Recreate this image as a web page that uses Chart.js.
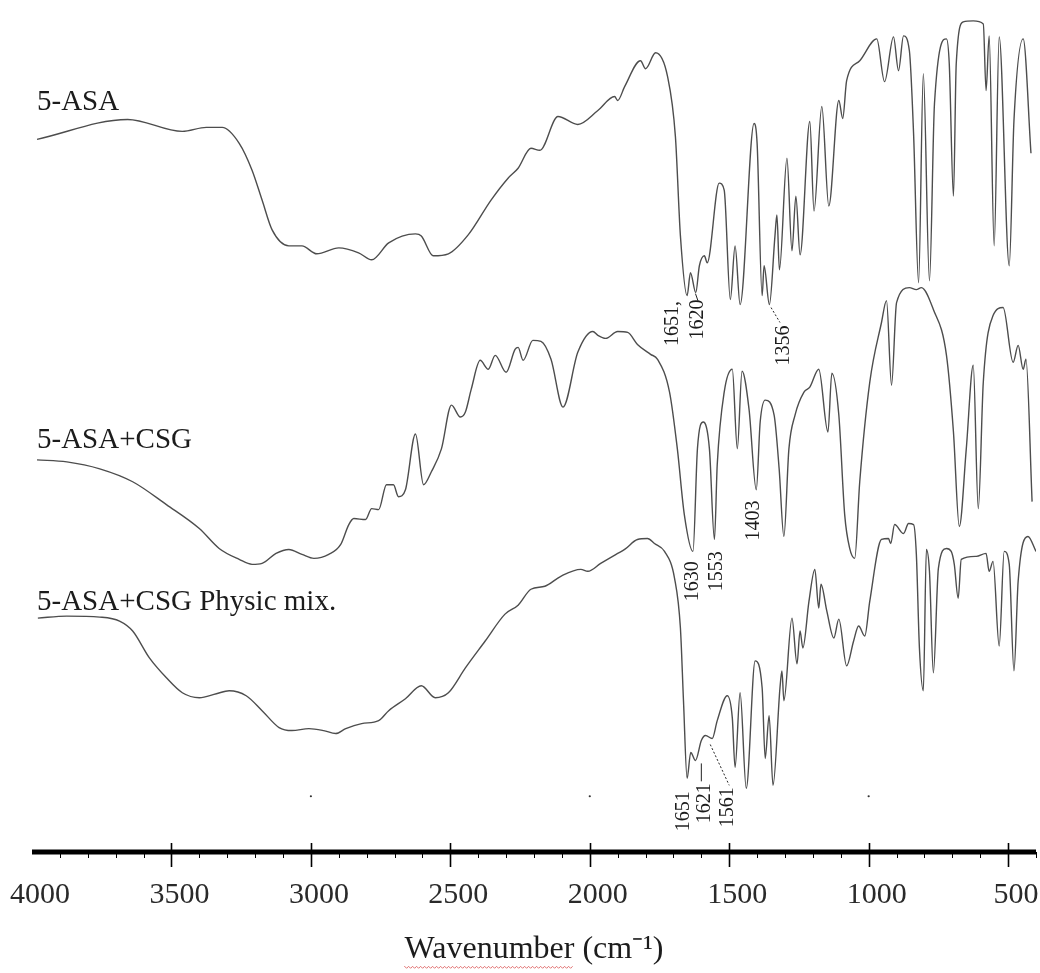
<!DOCTYPE html>
<html>
<head>
<meta charset="utf-8">
<title>FTIR spectra</title>
<script src="https://cdn.jsdelivr.net/npm/chart.js@4.4.1/dist/chart.umd.min.js"></script>
<style>
  html, body { margin: 0; padding: 0; background: #fff; }
</style>
</head>
<body>
<canvas id="spectra" width="1040" height="973"></canvas>
<script>
// wavenumbers (cm-1) and stacked transmittance (offset units) per spectrum
const asaWavenumber = [3982,3657,3461,3375,3318,3257,3211,3175,3139,3079,3032,2979,2900,2829,2782,2721,2625,2604,2561,2507,
  2436,2354,2293,2257,2211,2179,2114,2043,1971,1911,1900,1875,1818,1800,1764,1721,1693,1675,1651,1639,
  1620,1607,1589,1579,1536,1518,1496,1479,1461,1411,1400,1382,1375,1356,1336,1329,1320,1293,1275,1261,
  1246,1211,1196,1168,1143,1107,1093,1079,1032,971,943,911,893,875,854,839,821,804,782,764,
  721,711,696,686,661,625,589,579,568,550,532,496,479,446,418];
const asaSignal = [716,736,724,728,728,712,685,655,625,609,609,601,607,602,595,612,621,619,599,601,
  620,655,677,687,707,705,739,731,745,759,755,769,795,787,803,779,719,619,559,582,
  562,589,599,592,672,665,555,609,550,732,712,559,589,550,619,640,585,697,604,659,
  600,734,644,749,649,755,737,775,795,817,774,819,785,820,805,722,572,782,574,752,
  817,792,659,792,834,835,832,765,820,609,819,589,735,817,702];

const csgWavenumber = [3982,3875,3757,3639,3518,3400,3329,3257,3211,3175,3125,3079,3032,2989,2936,2893,2864,2846,2804,2782,
  2757,2729,2704,2686,2661,2625,2596,2568,2532,2496,2464,2446,2425,2393,2364,2339,2300,2268,2257,2239,
  2204,2175,2139,2096,2043,1989,1971,1943,1900,1864,1829,1782,1757,1714,1686,1661,1630,1614,1593,1571,
  1553,1543,1518,1489,1471,1454,1429,1403,1389,1371,1339,1321,1304,1286,1264,1232,1211,1179,1146,1132,
  1107,1086,1068,1050,1032,996,954,936,918,900,854,829,811,768,721,696,675,650,625,607,
  589,554,518,482,464,446,436,414];
const csgSignal = [394,392,385,372,349,325,305,294,289,290,300,304,299,295,299,309,329,335,334,345,
  344,369,369,357,364,420,369,382,405,449,437,442,465,494,485,499,482,505,507,494,
  514,513,495,447,502,523,519,516,523,522,510,500,495,462,405,339,302,405,432,405,
  314,389,462,485,405,483,445,364,432,454,439,385,317,405,439,462,467,485,422,481,
  439,339,305,295,372,472,532,554,469,552,567,565,567,545,499,422,327,405,489,345,
  472,539,547,492,509,485,495,352];

const mixWavenumber = [3979,3875,3757,3686,3639,3579,3518,3461,3400,3339,3293,3232,3175,3114,3068,3007,2954,2911,2875,2818,
  2757,2721,2661,2604,2554,2507,2446,2375,2304,2257,2211,2161,2104,2032,2007,1961,1900,1875,1829,1793,
  1768,1732,1696,1675,1664,1651,1638,1621,1600,1585,1561,1543,1507,1489,1479,1461,1439,1407,1382,1371,
  1357,1343,1318,1311,1304,1275,1257,1246,1236,1214,1193,1179,1171,1150,1125,1107,1079,1054,1036,1014,
  996,954,929,921,907,875,857,839,829,818,804,793,782,768,750,721,704,693,679,668,
  614,579,568,554,532,514,496,479,464,429,400];
const mixSignal = [235,237,236,232,222,195,175,160,155,159,162,157,142,125,122,124,122,119,124,129,
  132,142,154,167,155,160,185,212,239,248,264,267,277,284,282,290,300,304,314,315,
  310,302,275,225,152,74,100,92,112,117,114,132,157,135,85,160,64,192,165,94,
  137,67,165,182,152,235,189,222,205,252,284,245,269,242,215,234,187,212,227,217,
  252,314,315,310,329,320,330,329,299,205,162,304,282,180,285,305,302,289,255,294,
  297,300,282,292,207,302,289,182,272,317,302];

const seriesNames = ['5-ASA', '5-ASA+CSG', '5-ASA+CSG Physic mix.'];
const tickLabels = [4000, 3500, 3000, 2500, 2000, 1500, 1000, 500];

// small reference dots above the baseline
const dotWavenumber = [3000, 2000, 1000];
const dotLevel = [56, 56, 56];

// series names: left anchor in data units (wavenumber, level of text baseline)
const nameAnchors = [[3982, 745], [3982, 406], [3982, 243]];

// band assignments, written vertically; anchor is the text centre
const peakLabels = [
  { text: '1651,', wn: 1704, h: 531 },
  { text: '1620', wn: 1614, h: 535 },
  { text: '1356', wn: 1304, h: 509 },
  { text: '1630', wn: 1629, h: 272 },
  { text: '1553', wn: 1543, h: 282 },
  { text: '1403', wn: 1411, h: 333 },
  { text: '1651', wn: 1664, h: 41 },
  { text: '1621', wn: 1586, h: 49 },
  { text: '1561', wn: 1507, h: 45 }
];
const peakLeaders = [
  { from: [1621, 561], to: [1611, 553], dotted: false },
  { from: [1350, 547], to: [1318, 532], dotted: true },
  { from: [1600, 89], to: [1600, 71], dotted: false },
  { from: [1568, 108], to: [1500, 67], dotted: true }
];

const lineColor = '#4d4d4d';
const textColor = '#1c1c1c';
const titleText = 'Wavenumber (cm\u207B\u00B9)';
const titleFont = { family: '"Liberation Serif", "Times New Roman", serif', size: 32 };

function toPoints(xs, ys) {
  return xs.map((x, i) => ({ x: x, y: ys[i] }));
}

function spectrum(label, xs, ys) {
  return {
    label: label,
    data: toPoints(xs, ys),
    borderColor: lineColor,
    borderWidth: 1.4,
    pointRadius: 0,
    fill: false,
    cubicInterpolationMode: 'monotone'
  };
}

// baseline axis, tick marks and all the text placed on top of the plot
const decorations = {
  id: 'decorations',
  afterDraw(chart) {
    const ctx = chart.ctx;
    const xs = chart.scales.x;
    const ys = chart.scales.y;
    const base = ys.getPixelForValue(0);

    ctx.save();
    // thick baseline
    ctx.strokeStyle = '#000';
    ctx.lineWidth = 5;
    ctx.beginPath();
    ctx.moveTo(xs.getPixelForValue(4000), base);
    ctx.lineTo(xs.right, base);
    ctx.stroke();

    // minor ticks every 100, major every 500
    for (let w = 400; w < 4000; w += 100) {
      const px = Math.round(xs.getPixelForValue(w)) + 0.5;
      ctx.beginPath();
      if (w % 500 === 0) {
        ctx.lineWidth = 1.6;
        ctx.moveTo(px, base - 9);
        ctx.lineTo(px, base + 15);
      } else {
        ctx.lineWidth = 1;
        ctx.moveTo(px, base);
        ctx.lineTo(px, base + 6);
      }
      ctx.stroke();
    }

    // series names
    ctx.fillStyle = textColor;
    ctx.font = '29px "Liberation Serif", serif';
    ctx.textAlign = 'left';
    ctx.textBaseline = 'alphabetic';
    seriesNames.forEach((name, i) => {
      const a = nameAnchors[i];
      ctx.fillText(name, xs.getPixelForValue(a[0]), ys.getPixelForValue(a[1]));
    });

    // band labels
    ctx.font = '20px "Liberation Serif", serif';
    ctx.textAlign = 'center';
    ctx.textBaseline = 'middle';
    peakLabels.forEach(p => {
      ctx.save();
      ctx.translate(xs.getPixelForValue(p.wn), ys.getPixelForValue(p.h));
      ctx.rotate(-Math.PI / 2);
      ctx.fillText(p.text, 0, 0);
      ctx.restore();
    });

    ctx.strokeStyle = '#222';
    ctx.lineWidth = 1;
    peakLeaders.forEach(l => {
      ctx.setLineDash(l.dotted ? [2, 2] : []);
      ctx.beginPath();
      ctx.moveTo(xs.getPixelForValue(l.from[0]), ys.getPixelForValue(l.from[1]));
      ctx.lineTo(xs.getPixelForValue(l.to[0]), ys.getPixelForValue(l.to[1]));
      ctx.stroke();
    });
    ctx.setLineDash([]);

    // wavy underline under the first word of the axis title
    const fontStr = titleFont.size + 'px ' + titleFont.family;
    ctx.font = fontStr;
    const total = ctx.measureText(titleText).width;
    const word = ctx.measureText('Wavenumber').width;
    const cx = (xs.left + xs.right) / 2;
    const ty = xs.bottom - 4 - titleFont.size * 0.6;
    const x0 = cx - total / 2;
    const uy = ty + 17;
    ctx.strokeStyle = '#e07070';
    ctx.lineWidth = 1;
    ctx.beginPath();
    ctx.moveTo(x0, uy);
    for (let x = x0, k = 0; x <= x0 + word; x += 2, k++) {
      ctx.lineTo(x, uy + (k % 2 ? 1.5 : -0.5));
    }
    ctx.stroke();
    ctx.restore();
  }
};

const chart = new Chart(document.getElementById('spectra'), {
  type: 'line',
  data: {
    datasets: [
      spectrum(seriesNames[0], asaWavenumber, asaSignal),
      spectrum(seriesNames[1], csgWavenumber, csgSignal),
      spectrum(seriesNames[2], mixWavenumber, mixSignal),
      {
        label: 'marks',
        data: toPoints(dotWavenumber, dotLevel),
        showLine: false,
        pointRadius: 1.1,
        pointBackgroundColor: '#333',
        pointBorderWidth: 0
      }
    ]
  },
  options: {
    responsive: false,
    animation: false,
    layout: { padding: { left: 32, right: 0, top: 0, bottom: 0 } },
    plugins: {
      legend: { display: false },
      tooltip: { enabled: false }
    },
    scales: {
      x: {
        type: 'linear',
        reverse: true,
        min: 400,
        max: 4000,
        // fixed axis band; the end labels may overhang the plot edges
        afterFit: (scale) => {
          scale.height = 121;
          scale.paddingLeft = 0;
          scale.paddingRight = 0;
        },
        border: { display: false },
        grid: { display: false, drawTicks: false },
        ticks: {
          stepSize: 100,
          autoSkip: false,
          maxRotation: 0,
          padding: 25,
          labelOffset: 8,
          color: '#2a2a2a',
          font: { family: '"Liberation Serif", "Times New Roman", serif', size: 30 },
          callback: (v) => tickLabels.includes(v) ? String(v) : ''
        },
        title: {
          display: true,
          text: titleText,
          color: textColor,
          font: titleFont,
          padding: { top: 0, bottom: 4 }
        }
      },
      y: {
        display: false,
        min: 0,
        max: 852
      }
    }
  },
  plugins: [decorations]
});
</script>
</body>
</html>
